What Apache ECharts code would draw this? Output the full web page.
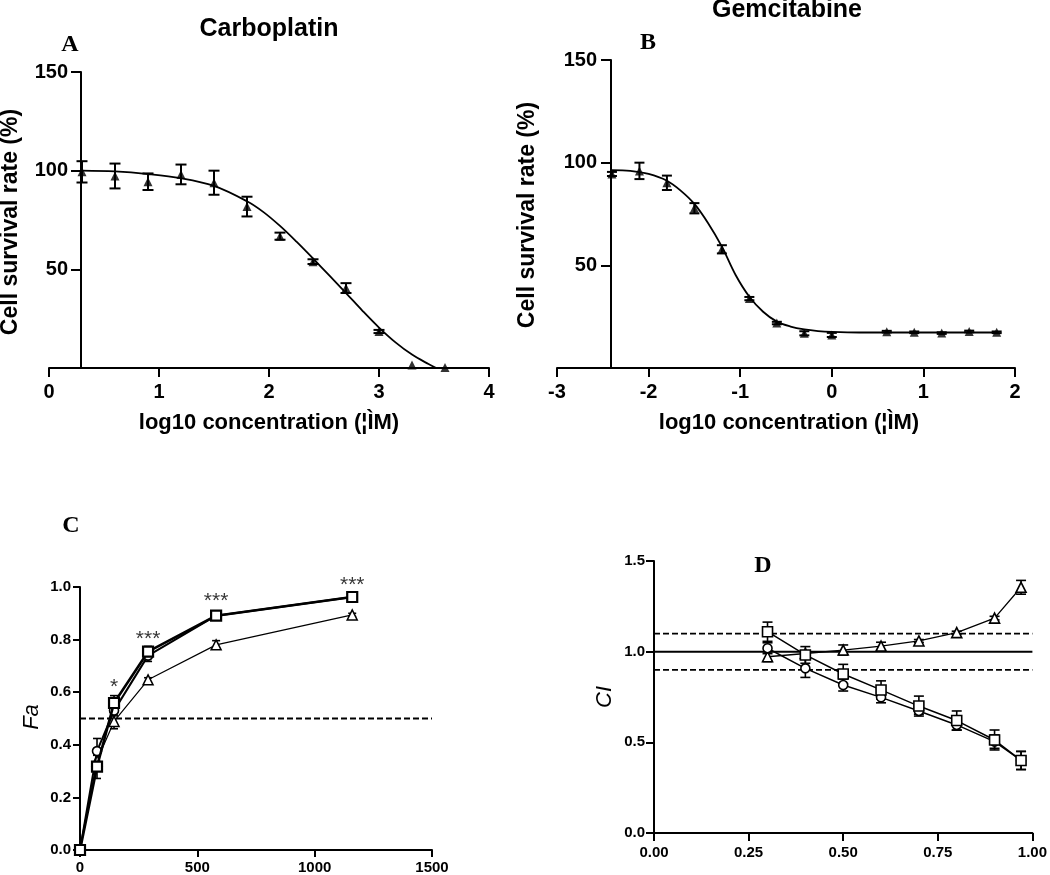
<!DOCTYPE html>
<html>
<head>
<meta charset="utf-8">
<script src="https://cdn.jsdelivr.net/npm/echarts@6/dist/echarts.min.js"></script>
<style>html,body{margin:0;padding:0;background:#fff}#c{width:1050px;height:875px}</style>
</head>
<body>
<div id="c"></div>
<script>
// ---------- Panel A: Carboplatin ----------
const aConc = [0.3, 0.6, 0.9, 1.2, 1.5, 1.8, 2.1, 2.4, 2.7, 3.0, 3.3, 3.6];
const aSurv = [99.4, 97.3, 94.4, 98.1, 93.9, 81.8, 66.8, 53.9, 40.5, 18.5, 1.5, 0.3];
const aErr  = [5.4, 6.3, 4.2, 5.0, 6.1, 5.0, 1.8, 1.2, 2.5, 0.8, 0, 0];
const aFitX = [0.3, 0.6, 0.9, 1.2, 1.5, 1.8, 1.95, 2.1, 2.25, 2.4, 2.55, 2.7, 2.85, 3.0, 3.15, 3.3, 3.45, 3.52];
const aFitY = [100, 99.6, 98.3, 96.2, 92.3, 84.5, 79, 72, 64, 55.5, 46.8, 38, 29, 20.5, 13, 6.8, 2, 0];

// ---------- Panel B: Gemcitabine ----------
const bConc = [-2.4, -2.1, -1.8, -1.5, -1.2, -0.9, -0.6, -0.3, 0, 0.6, 0.9, 1.2, 1.5, 1.8];
const bSurv = [94.5, 96.0, 90.2, 77.8, 57.8, 33.8, 21.9, 16.9, 16.1, 17.7, 17.4, 17.0, 17.8, 17.4];
const bErr  = [1.0, 4.0, 3.5, 2.5, 2.0, 0.8, 0.6, 1.0, 1.0, 0.4, 0.4, 0.4, 0.4, 0.4];
const bFitX = [-2.4, -2.2, -2.0, -1.8, -1.65, -1.5, -1.35, -1.2, -1.05, -0.9, -0.75, -0.6, -0.45, -0.3, -0.15, 0, 0.3, 0.9, 1.8];
const bFitY = [96.4, 96.0, 94.5, 91.2, 86.4, 79.9, 70.5, 59.1, 45.3, 34.7, 27.4, 22.6, 20.2, 18.8, 18.0, 17.6, 17.3, 17.3, 17.3];

// ---------- Panel C: Fa vs dose ----------
const cDose = [0, 72.5, 145, 290, 580, 1160];
const cSquare = [0, 0.317, 0.559, 0.754, 0.891, 0.962];
const cSquareErr = [0, 0.045, 0.028, 0.02, 0.008, 0.008];
const cCircle = [0, 0.376, 0.53, 0.739, 0.891, 0.962];
const cCircleErr = [0, 0.048, 0.02, 0.022, 0.008, 0.008];
const cTri = [0, 0.34, 0.489, 0.647, 0.78, 0.894];
const cTriErr = [0, 0.02, 0.028, 0.008, 0.016, 0.006];
const cFaRef = 0.5;
const cStars = [[145, 0.62, '*'], [290, 0.80, '***'], [580, 0.945, '***'], [1160, 1.005, '***']];

// ---------- Panel D: CI vs Fa ----------
const dFa = [0.3, 0.4, 0.5, 0.6, 0.7, 0.8, 0.9, 0.97];
const dSquare = [1.11, 0.982, 0.877, 0.789, 0.70, 0.62, 0.513, 0.40];
const dSquareErr = [0.053, 0.046, 0.053, 0.05, 0.055, 0.053, 0.055, 0.05];
const dCircle = [1.019, 0.908, 0.816, 0.748, 0.673, 0.596, 0.504, 0.40];
const dCircleErr = [0.03, 0.05, 0.033, 0.03, 0.018, 0.028, 0.037, 0.05];
const dTri = [0.972, 0.99, 1.009, 1.031, 1.059, 1.105, 1.185, 1.355];
const dTriErr = [0.027, 0.01, 0.028, 0.021, 0.008, 0.008, 0.01, 0.038];
const dRefSolid = 1.0;
const dRefDashed = [0.9, 1.1];

// ---------- helpers ----------
const FONT = '"Liberation Sans", Arial, sans-serif';
const SERIF = '"Liberation Serif", "Times New Roman", serif';
const BLACK = '#000';

function axisCommon(fontSize, tickLen, margin, fmt) {
  return {
    axisLine: { show: true, onZero: false, lineStyle: { color: BLACK, width: 2 } },
    axisTick: { show: true, length: tickLen, lineStyle: { color: BLACK, width: 2 } },
    axisLabel: { color: BLACK, fontFamily: FONT, fontWeight: 'bold', fontSize: fontSize, margin: margin,
                 formatter: fmt || (v => String(v)) },
    splitLine: { show: false }
  };
}
function hiddenAxis(min, max) {
  return { type: 'value', min: min, max: max, show: false, splitLine: { show: false } };
}
function pairs(xs, ys) { return xs.map((x, i) => [x, ys[i]]); }

function errorBars(xi, yi, xs, ys, es, cap, lw) {
  const data = [];
  xs.forEach((x, i) => { if (es[i] > 0) data.push([x, ys[i] - es[i], ys[i] + es[i]]); });
  return {
    type: 'custom', xAxisIndex: xi, yAxisIndex: yi, data: data, silent: true, z: 3, clip: false,
    encode: { x: 0, y: [1, 2] },
    renderItem: function (params, api) {
      const x = api.value(0);
      const lo = api.coord([x, api.value(1)]);
      const hi = api.coord([x, api.value(2)]);
      const h = cap / 2;
      const st = { stroke: BLACK, lineWidth: lw };
      return {
        type: 'group', children: [
          { type: 'line', shape: { x1: lo[0], y1: lo[1], x2: hi[0], y2: hi[1] }, style: st },
          { type: 'line', shape: { x1: lo[0] - h, y1: lo[1], x2: lo[0] + h, y2: lo[1] }, style: st },
          { type: 'line', shape: { x1: hi[0] - h, y1: hi[1], x2: hi[0] + h, y2: hi[1] }, style: st }
        ]
      };
    }
  };
}
function markerLine(xi, yi, xs, ys, symbol, size, lw, fill, z, bw) {
  return {
    type: 'line', xAxisIndex: xi, yAxisIndex: yi, data: pairs(xs, ys),
    symbol: symbol, symbolSize: size, showSymbol: true, showAllSymbol: true, clip: false,
    lineStyle: { color: BLACK, width: lw },
    itemStyle: { color: fill, borderColor: BLACK, borderWidth: bw || 1.6 },
    z: z, silent: true
  };
}
function fitLine(xi, yi, xs, ys) {
  return {
    type: 'line', xAxisIndex: xi, yAxisIndex: yi, data: pairs(xs, ys),
    showSymbol: false, symbol: 'none', smooth: 0.35,
    lineStyle: { color: BLACK, width: 1.8 }, z: 2, silent: true
  };
}
function scatterTri(xi, yi, xs, ys, size) {
  return {
    type: 'scatter', xAxisIndex: xi, yAxisIndex: yi, data: pairs(xs, ys), clip: false,
    symbol: 'triangle', symbolSize: size, itemStyle: { color: BLACK }, z: 4, silent: true
  };
}
function refLine(xi, yi, x0, x1, y, dashed, lw) {
  return {
    type: 'line', xAxisIndex: xi, yAxisIndex: yi, data: [[x0, y], [x1, y]],
    symbol: 'none', showSymbol: false,
    lineStyle: { color: BLACK, width: lw, type: dashed ? [6, 3] : 'solid' }, z: 1, silent: true
  };
}
function txt(text, x, y, font, rot) {
  return {
    type: 'text', x: x, y: y, rotation: rot || 0, silent: true,
    style: { text: text, font: font, fill: BLACK, align: 'center', verticalAlign: 'middle',
             textAlign: 'center', textVerticalAlign: 'middle' }
  };
}

const hideZero = v => (v === 0 ? '' : String(v));

const option = {
  animation: false,
  backgroundColor: '#fff',
  grid: [
    { left: 49, top: 72, width: 440, height: 296 },   // 0: A data + x axis
    { left: 81, top: 72, width: 400, height: 296 },   // 1: A y axis
    { left: 557, top: 60, width: 458, height: 308 },  // 2: B data + x axis
    { left: 611, top: 60, width: 400, height: 308 },  // 3: B y axis
    { left: 80, top: 587, width: 352, height: 264 },  // 4: C
    { left: 654, top: 561, width: 380, height: 272 }  // 5: D
  ],
  xAxis: [
    Object.assign({ type: 'value', gridIndex: 0, min: 0, max: 4, interval: 1 }, axisCommon(20, 9, 14)),
    Object.assign({ gridIndex: 1 }, hiddenAxis(0, 1)),
    Object.assign({ type: 'value', gridIndex: 2, min: -3, max: 2, interval: 1 }, axisCommon(20, 9, 14)),
    Object.assign({ gridIndex: 3 }, hiddenAxis(0, 1)),
    Object.assign({ type: 'value', gridIndex: 4, min: 0, max: 1500, interval: 500 }, axisCommon(15, 7, 10)),
    Object.assign({ type: 'value', gridIndex: 5, min: 0, max: 1, interval: 0.25 }, axisCommon(15, 8, 12, v => v.toFixed(2)))
  ],
  yAxis: [
    Object.assign({ gridIndex: 0 }, hiddenAxis(0, 150)),
    Object.assign({ type: 'value', gridIndex: 1, min: 0, max: 150, interval: 50 }, axisCommon(20, 10, 13, hideZero)),
    Object.assign({ gridIndex: 2 }, hiddenAxis(0, 150)),
    Object.assign({ type: 'value', gridIndex: 3, min: 0, max: 150, interval: 50 }, axisCommon(20, 10, 14, hideZero)),
    Object.assign({ type: 'value', gridIndex: 4, min: 0, max: 1, interval: 0.2 }, axisCommon(15, 7, 9, v => v.toFixed(1))),
    Object.assign({ type: 'value', gridIndex: 5, min: 0, max: 1.5, interval: 0.5 }, axisCommon(15, 8, 9, v => v.toFixed(1)))
  ],
  series: [
    // A
    fitLine(0, 0, aFitX, aFitY),
    errorBars(0, 0, aConc, aSurv, aErr, 11, 2),
    scatterTri(0, 0, aConc, aSurv, 9),
    // B
    fitLine(2, 2, bFitX, bFitY),
    errorBars(2, 2, bConc, bSurv, bErr, 10, 2),
    scatterTri(2, 2, bConc, bSurv, 9),
    // C
    refLine(4, 4, 0, 1500, cFaRef, true, 1.8),
    errorBars(4, 4, cDose, cTri, cTriErr, 8, 1.6),
    errorBars(4, 4, cDose, cCircle, cCircleErr, 8, 1.6),
    errorBars(4, 4, cDose, cSquare, cSquareErr, 8, 1.6),
    markerLine(4, 4, cDose, cTri, 'triangle', 10, 1.2, '#fff', 5, 1.5),
    markerLine(4, 4, cDose, cCircle, 'circle', 9, 2, '#fff', 6, 1.6),
    markerLine(4, 4, cDose, cSquare, 'rect', 10, 2.6, '#fff', 7, 2.2),
    {
      type: 'scatter', xAxisIndex: 4, yAxisIndex: 4, data: cStars, symbolSize: 1, clip: false,
      itemStyle: { color: 'rgba(0,0,0,0)' }, silent: true, z: 8,
      labelLayout: { hideOverlap: false },
      label: { show: true, position: 'inside', formatter: p => p.data[2], color: BLACK,
               fontFamily: FONT, fontSize: 21 }
    },
    // D
    refLine(5, 5, 0, 1, dRefSolid, false, 2),
    refLine(5, 5, 0, 1, dRefDashed[0], true, 1.8),
    refLine(5, 5, 0, 1, dRefDashed[1], true, 1.8),
    errorBars(5, 5, dFa, dTri, dTriErr, 10, 1.6),
    errorBars(5, 5, dFa, dCircle, dCircleErr, 10, 1.6),
    errorBars(5, 5, dFa, dSquare, dSquareErr, 10, 1.6),
    markerLine(5, 5, dFa, dTri, 'triangle', 10, 1.3, '#fff', 5),
    markerLine(5, 5, dFa, dCircle, 'circle', 9, 1.5, '#fff', 6),
    markerLine(5, 5, dFa, dSquare, 'rect', 10, 1.5, '#fff', 7)
  ],
  graphic: [
    txt('Carboplatin', 269, 29, 'bold 25px ' + FONT),
    txt('Gemcitabine', 787, 10, 'bold 25px ' + FONT),
    txt('A', 70, 45, 'bold 24px ' + SERIF),
    txt('B', 648, 43, 'bold 24px ' + SERIF),
    txt('C', 71, 526, 'bold 24px ' + SERIF),
    txt('D', 763, 566, 'bold 24px ' + SERIF),
    txt('Cell survival rate (%)', 11, 222, 'bold 23px ' + FONT, Math.PI / 2),
    txt('Cell survival rate (%)', 528, 215, 'bold 23px ' + FONT, Math.PI / 2),
    txt('log10 concentration (\u00A6\u00CCM)', 269, 423, 'bold 22px ' + FONT),
    txt('log10 concentration (\u00A6\u00CCM)', 789, 423, 'bold 22px ' + FONT),
    txt('Fa', 32, 717, 'italic 22px ' + FONT, Math.PI / 2),
    txt('CI', 605, 697, 'italic 22px ' + FONT, Math.PI / 2)
  ]
};

const chart = echarts.init(document.getElementById('c'), null, { renderer: 'canvas' });
chart.setOption(option);
</script>
</body>
</html>
